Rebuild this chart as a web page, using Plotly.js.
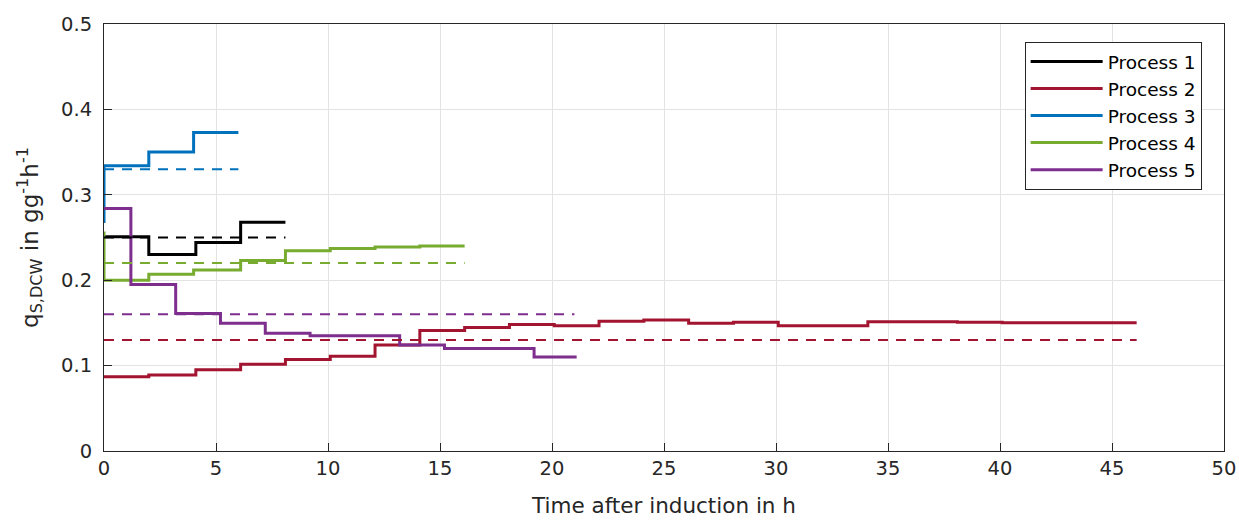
<!DOCTYPE html>
<html>
<head>
<meta charset="utf-8">
<script src="https://cdn.plot.ly/plotly-3.0.1.min.js"></script>
<style>html,body{margin:0;padding:0;background:#fff;} #chart{width:1239px;height:521px;}</style>
</head>
<body>
<div id="chart"></div>
<script>
// Step data (time in h, q value in g/g/h) — each value holds until the next time
const p1_t = [0, 2, 4.1, 6.1, 8.1];
const p1_q = [0.251, 0.230, 0.244, 0.268, 0.268];
const p1_mean = 0.25, p1_end = 8.1;

const p2_t = [0, 2, 4.1, 6.1, 8.1, 10.1, 12.1, 14.1, 16.1, 18.1, 20.1, 22.1, 24.1, 26.1, 28.1, 30.1, 34.1, 38.1, 40.1, 46.1];
const p2_q = [0.087, 0.089, 0.095, 0.1015, 0.107, 0.111, 0.124, 0.141, 0.1445, 0.148, 0.1467, 0.152, 0.1534, 0.1495, 0.1507, 0.1467, 0.1514, 0.1507, 0.1503, 0.1503];
const p2_mean = 0.13, p2_end = 46.1;

const p3_t = [0, 0, 2, 4, 6];
const p3_q = [0.267, 0.334, 0.350, 0.373, 0.373];
const p3_mean = 0.33, p3_end = 6;

const p4_t = [0, 0, 2, 4, 6.1, 8.1, 10.1, 12.1, 14.1, 16.1];
const p4_q = [0.257, 0.200, 0.207, 0.212, 0.223, 0.2345, 0.237, 0.239, 0.240, 0.240];
const p4_mean = 0.22, p4_end = 16.1;

const p5_t = [0, 1.2, 3.2, 5.2, 7.2, 9.2, 13.2, 15.2, 19.2, 21.1];
const p5_q = [0.284, 0.195, 0.161, 0.1495, 0.138, 0.135, 0.124, 0.120, 0.110, 0.110];
const p5_mean = 0.16, p5_end = 21.0;

const names = ['Process 1', 'Process 2', 'Process 3', 'Process 4', 'Process 5'];
const colors = ['#000000', '#A2142F', '#0072BD', '#77AC30', '#7E2F8E'];
const ts = [p1_t, p2_t, p3_t, p4_t, p5_t];
const qs = [p1_q, p2_q, p3_q, p4_q, p5_q];
const means = [p1_mean, p2_mean, p3_mean, p4_mean, p5_mean];
const ends = [p1_end, p2_end, p3_end, p4_end, p5_end];

const traces = [];
for (let i = 0; i < 5; i++) {
  traces.push({
    x: ts[i], y: qs[i], type: 'scatter', mode: 'lines', name: names[i],
    line: {color: colors[i], width: 3, shape: 'hv'}
  });
}
for (let i = 0; i < 5; i++) {
  traces.push({
    x: [0, ends[i]], y: [means[i], means[i]], type: 'scatter', mode: 'lines',
    showlegend: false, hoverinfo: 'skip',
    line: {color: colors[i], width: 2, dash: '10px,8px'}
  });
}

const FONT = 'DejaVu Sans, Arial, sans-serif';
const axisCommon = {
  showline: true, linecolor: '#262626', linewidth: 1, mirror: true,
  ticks: 'inside', ticklen: 8, tickcolor: '#262626',
  showgrid: true, gridcolor: '#e3e3e3', gridwidth: 1, zeroline: false,
  tickfont: {family: FONT, size: 19.5, color: '#262626'}
};

const layout = {
  width: 1239, height: 521,
  margin: {l: 104, r: 15, t: 24, b: 70},
  paper_bgcolor: '#ffffff', plot_bgcolor: '#ffffff',
  showlegend: true,
  legend: {
    x: 0.822, y: 0.958, xanchor: 'left', yanchor: 'top',
    bordercolor: '#262626', borderwidth: 1, bgcolor: '#ffffff',
    font: {family: FONT, size: 18.5, color: '#000'},
    tracegroupgap: 0, itemwidth: 72
  },
  xaxis: Object.assign({}, axisCommon, {
    range: [0, 50], dtick: 5, tick0: 0,
    title: {text: 'Time after induction in h', standoff: 18,
      font: {family: FONT, size: 21.5, color: '#262626'}}
  }),
  yaxis: Object.assign({}, axisCommon, {
    range: [0, 0.5], dtick: 0.1, tick0: 0, tickformat: '.1~f',
    ticklabelstandoff: 7,
    title: {text: 'q<sub>S,DCW</sub> in gg<sup>-1</sup>h<sup>-1</sup>', standoff: 16,
      font: {family: FONT, size: 23, color: '#262626'}}
  })
};

Plotly.newPlot('chart', traces, layout, {staticPlot: true, displayModeBar: false});
</script>
</body>
</html>
